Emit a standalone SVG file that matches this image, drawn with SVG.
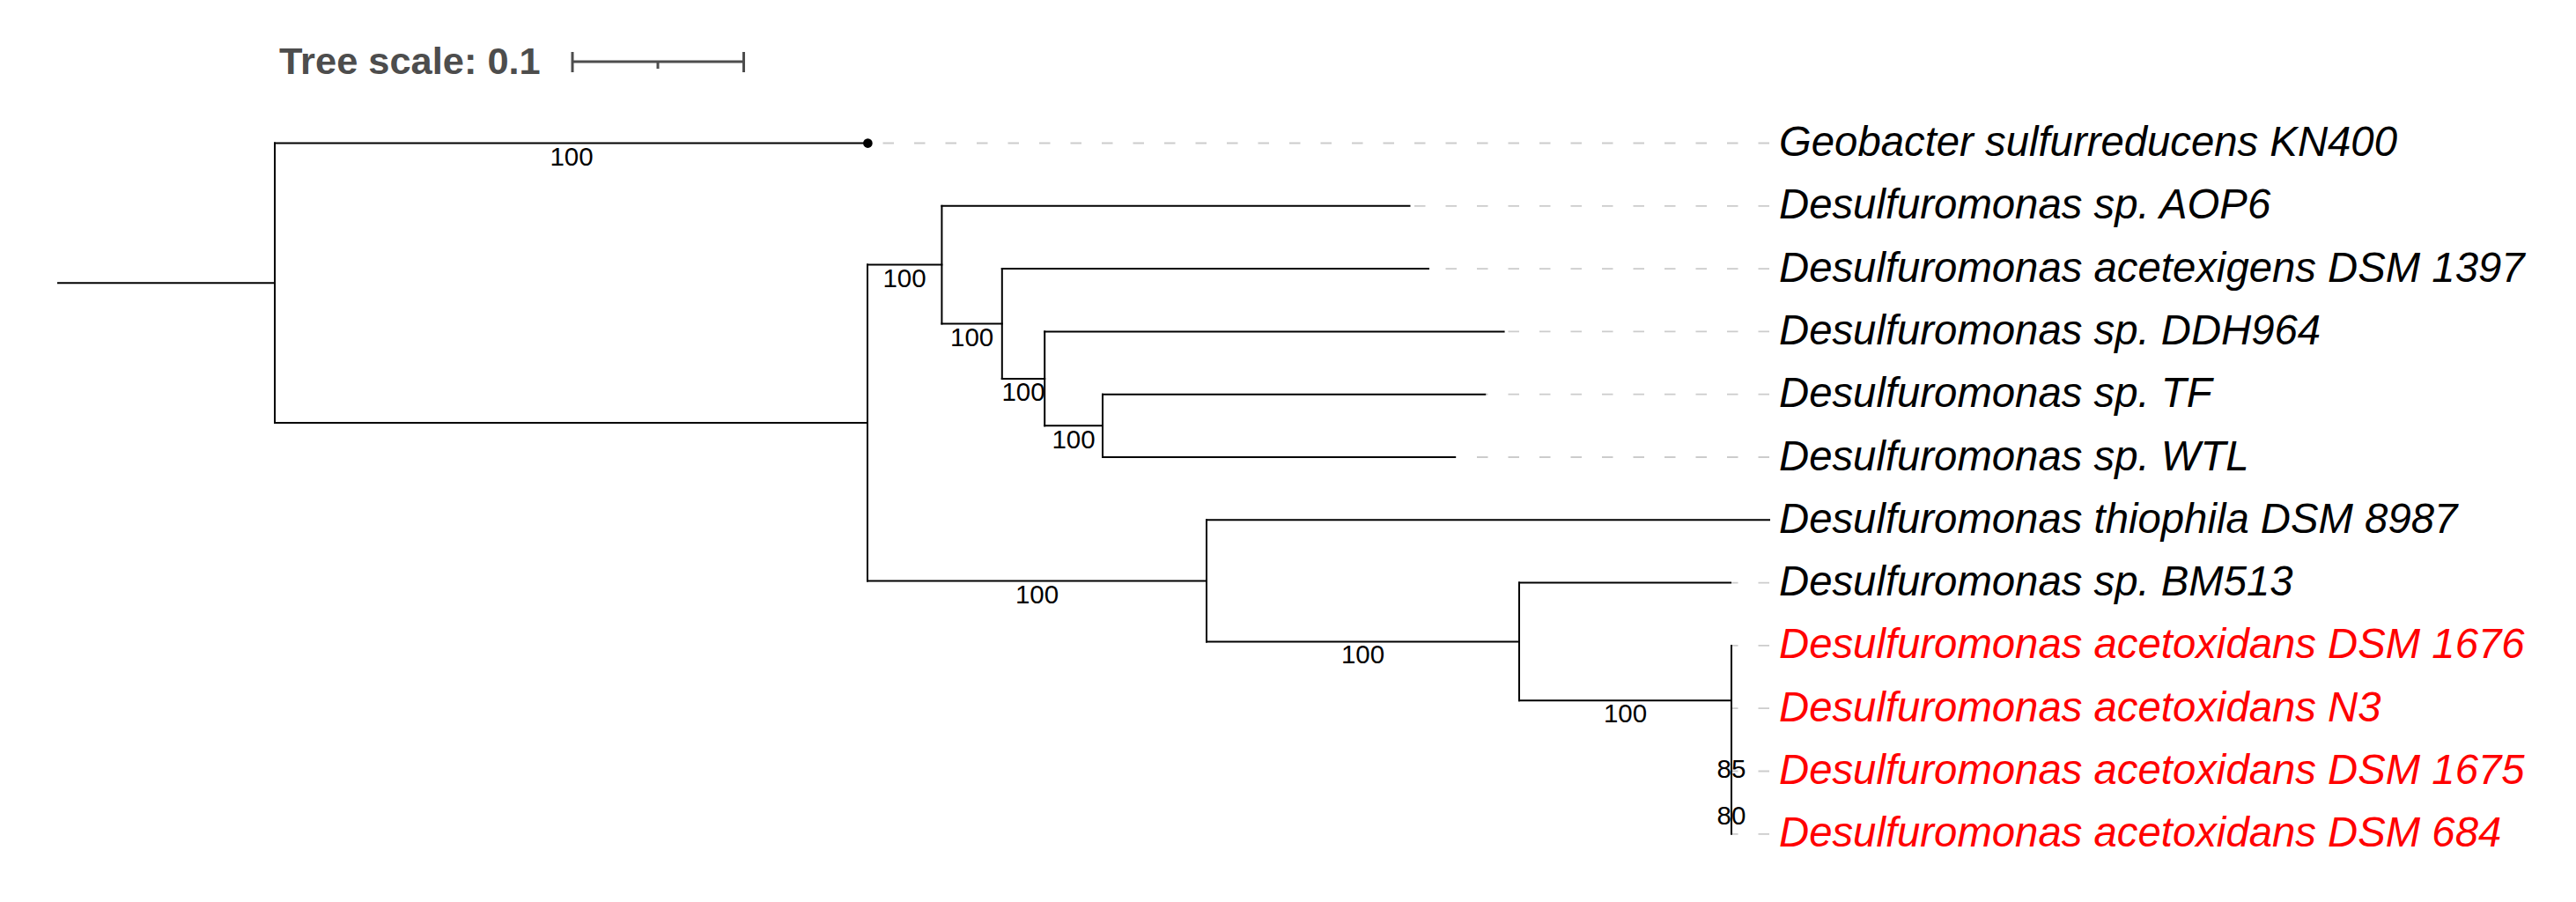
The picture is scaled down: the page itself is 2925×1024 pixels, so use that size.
<svg xmlns="http://www.w3.org/2000/svg" width="2925" height="1024" viewBox="0 0 2925 1024">
<style>
.br{stroke:#000;stroke-width:2;fill:none;stroke-linecap:square}
.dash{stroke:#cccccc;stroke-width:1.8;stroke-dasharray:12.5 23;fill:none}
.bs{font-family:"Liberation Sans",Arial,sans-serif;font-size:29.5px;fill:#000;text-anchor:middle}
.lf{font-family:"Liberation Sans",Arial,sans-serif;font-size:47.3px;font-style:italic;fill:#000}
.red{fill:#ff0000}
.sc{stroke:#4d4d4d;stroke-width:3;fill:none}
</style>
<rect width="2925" height="1024" fill="#fff"/>
<g id="scale">
<text x="317" y="83.5" font-family="Liberation Sans,Arial,sans-serif" font-size="43.4" font-weight="bold" fill="#4d4d4d">Tree scale: 0.1</text>
<line class="sc" x1="650" y1="70" x2="844.5" y2="70"/>
<line class="sc" x1="650" y1="59" x2="650" y2="82"/>
<line class="sc" x1="844.5" y1="59" x2="844.5" y2="82"/>
<line class="sc" x1="747" y1="70" x2="747" y2="78"/>
</g>
<g id="leaders">
<line class="dash" x1="2009" y1="162.5" x2="991" y2="162.5"/>
<line class="dash" x1="2009" y1="233.8" x2="1601" y2="233.8"/>
<line class="dash" x1="2009" y1="305.1" x2="1623" y2="305.1"/>
<line class="dash" x1="2009" y1="376.4" x2="1708" y2="376.4"/>
<line class="dash" x1="2009" y1="447.7" x2="1687" y2="447.7"/>
<line class="dash" x1="2009" y1="519" x2="1653" y2="519"/>
<line class="dash" x1="2009" y1="661.6" x2="1966" y2="661.6"/>
<line class="dash" x1="2009" y1="732.9" x2="1967" y2="732.9"/>
<line class="dash" x1="2009" y1="804.2" x2="1967" y2="804.2"/>
<line class="dash" x1="2009" y1="875.5" x2="1967" y2="875.5"/>
<line class="dash" x1="2009" y1="946.8" x2="1967" y2="946.8"/>
</g>
<g id="connectors">
<path class="br" d="M66 321.25H312"/>
<path class="br" d="M312 162.5V480"/>
<path class="br" d="M312 162.5H985.5"/>
<path class="br" d="M312 480H985"/>
<path class="br" d="M985 300.6V659.4"/>
<path class="br" d="M985 300.6H1069.4"/>
<path class="br" d="M1069.4 233.8V367.5"/>
<path class="br" d="M1069.4 233.8H1600.5"/>
<path class="br" d="M1069.4 367.5H1137.8"/>
<path class="br" d="M1137.8 305.1V429.9"/>
<path class="br" d="M1137.8 305.1H1622"/>
<path class="br" d="M1137.8 429.9H1186.2"/>
<path class="br" d="M1186.2 376.4V483.35"/>
<path class="br" d="M1186.2 376.4H1707.6"/>
<path class="br" d="M1186.2 483.35H1252"/>
<path class="br" d="M1252 447.7V519"/>
<path class="br" d="M1252 447.7H1686.2"/>
<path class="br" d="M1252 519H1652"/>
<path class="br" d="M985 659.4H1370"/>
<path class="br" d="M1370 590.3V728.45"/>
<path class="br" d="M1370 590.3H2009"/>
<path class="br" d="M1370 728.45H1725"/>
<path class="br" d="M1725 661.6V795.3"/>
<path class="br" d="M1725 661.6H1965"/>
<path class="br" d="M1725 795.3H1966"/>
<path class="br" d="M1966 732.9V946.8"/>
<circle cx="985.4" cy="162.6" r="5.3" fill="#000"/>
</g>
<g id="bootstrap">
<text class="bs" x="649" y="188">100</text>
<text class="bs" x="1027" y="326">100</text>
<text class="bs" x="1103.6" y="392.7">100</text>
<text class="bs" x="1162" y="455">100</text>
<text class="bs" x="1219" y="508.5">100</text>
<text class="bs" x="1177.5" y="685">100</text>
<text class="bs" x="1547.5" y="753">100</text>
<text class="bs" x="1845.5" y="820">100</text>
<text class="bs" x="1966" y="882.5">85</text>
<text class="bs" x="1966" y="935.5">80</text>
</g>
<g id="leaf-geobacter"><text class="lf" x="2020" y="177">Geobacter sulfurreducens KN400</text></g>
<g id="leaf-aop6"><text class="lf" x="2020" y="248.3">Desulfuromonas sp. AOP6</text></g>
<g id="leaf-acetexigens"><text class="lf" x="2020" y="319.6">Desulfuromonas acetexigens DSM 1397</text></g>
<g id="leaf-ddh964"><text class="lf" x="2020" y="390.9">Desulfuromonas sp. DDH964</text></g>
<g id="leaf-tf"><text class="lf" x="2020" y="462.2">Desulfuromonas sp. TF</text></g>
<g id="leaf-wtl"><text class="lf" x="2020" y="533.5">Desulfuromonas sp. WTL</text></g>
<g id="leaf-thiophila"><text class="lf" x="2020" y="604.8">Desulfuromonas thiophila DSM 8987</text></g>
<g id="leaf-bm513"><text class="lf" x="2020" y="676.1">Desulfuromonas sp. BM513</text></g>
<g id="leaf-dsm1676"><text class="lf red" x="2020" y="747.4">Desulfuromonas acetoxidans DSM 1676</text></g>
<g id="leaf-n3"><text class="lf red" x="2020" y="818.7">Desulfuromonas acetoxidans N3</text></g>
<g id="leaf-dsm1675"><text class="lf red" x="2020" y="890">Desulfuromonas acetoxidans DSM 1675</text></g>
<g id="leaf-dsm684"><text class="lf red" x="2020" y="961.3">Desulfuromonas acetoxidans DSM 684</text></g>
</svg>
